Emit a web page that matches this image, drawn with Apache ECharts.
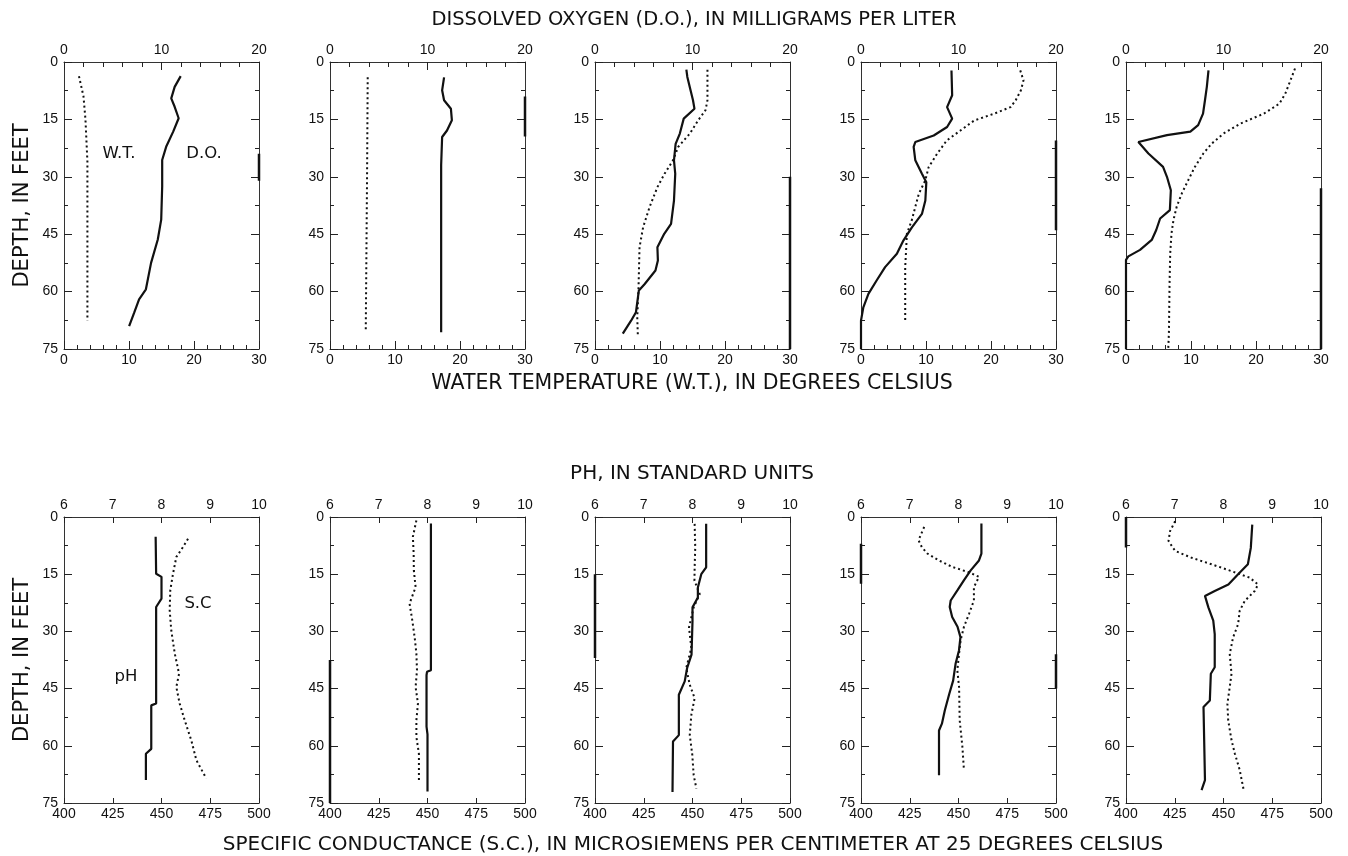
<!DOCTYPE html>
<html>
<head>
<meta charset="utf-8">
<script src="https://cdn.jsdelivr.net/npm/echarts@6/dist/echarts.min.js"></script>
<style>
  html, body { margin: 0; padding: 0; background: #fff; }
  #chart { width: 1348px; height: 856px; }
</style>
</head>
<body>
<div id="chart"></div>
<script>
// depth profiles, each point is [value, depth in feet]
const do1 = [[11.97, 3.7], [11.35, 6.5], [11.0, 9.5], [11.35, 11.7], [11.76, 14.7], [11.2, 18.2], [10.5, 22], [10.07, 25.6], [10.07, 32.5], [9.97, 41.2], [9.62, 46.4], [8.93, 52.5], [8.4, 59.4], [7.7, 62], [7.2, 65.5], [6.68, 69]]
const wt1 = [[2.3, 3.7], [3.0, 9], [3.3, 15], [3.6, 26], [3.6, 67.6]]
const do2 = [[11.7, 4], [11.5, 7.4], [11.7, 10], [12.4, 12.2], [12.5, 15.2], [12.0, 17.9], [11.5, 19.6], [11.4, 27], [11.4, 70.6]]
const wt2 = [[5.8, 4], [5.7, 30], [5.5, 70.6]]
const do3 = [[9.37, 2], [9.47, 3.9], [9.8, 7.4], [10.05, 10], [10.2, 12.2], [9.1, 14.8], [8.7, 18.7], [8.27, 21.4], [8.1, 25.7], [8.23, 29.2], [8.1, 36.2], [7.8, 42.3], [7.1, 44.9], [6.4, 48.4], [6.45, 51.9], [6.2, 54.5], [5.1, 58], [4.5, 59.7], [4.2, 65.4], [3.7, 67.6], [2.85, 71]]
const wt3 = [[17.3, 2], [17.3, 10], [17.0, 12.6], [15.85, 15.3], [14.6, 18.7], [12.8, 22.2], [12.0, 25.7], [10.7, 29.2], [9.6, 32.7], [8.4, 37.9], [7.4, 43.2], [6.85, 48.4], [6.7, 58.8], [6.5, 66.7], [6.6, 71.9]]
const do4 = [[9.28, 2.2], [9.35, 8.7], [8.83, 11.8], [9.35, 14.8], [8.83, 17], [7.46, 19.2], [5.57, 20.9], [5.4, 22.2], [5.57, 25.7], [6.25, 29.2], [6.7, 31.4], [6.6, 36.2], [6.25, 39.7], [5.22, 43.2], [4.36, 46.6], [3.68, 50.1], [2.47, 53.6], [1.6, 57.1], [0.76, 60.6], [0.24, 64.1], [0, 67.6], [0, 75]]
const wt4 = [[24.5, 2.2], [25.0, 4.8], [24.6, 7.4], [23.8, 10], [23.0, 11.8], [20.5, 13.5], [17.4, 15.3], [15.3, 17.9], [13.2, 20.5], [11.7, 24], [10.4, 27.5], [9.9, 30.9], [8.9, 34.4], [8.35, 37.9], [7.8, 41.4], [7.06, 44.9], [6.96, 48.4], [6.8, 53.6], [6.8, 62.4], [6.8, 67.6]]
const do5 = [[8.46, 2.2], [8.29, 6.5], [8.1, 10], [7.9, 13.5], [7.4, 16.5], [6.6, 18.2], [4.2, 19.1], [1.27, 20.9], [1.1, 21.3], [2.3, 23.9], [3.8, 27.4], [4.2, 30], [4.6, 33.5], [4.5, 38.7], [3.5, 40.9], [3.1, 43.9], [2.64, 46.5], [1.44, 49.1], [0.24, 50.8], [0, 51.7], [0, 75]]
const wt5 = [[26.0, 1.7], [25.3, 4.8], [24.5, 8.3], [23.6, 10.9], [21.2, 13.5], [17.6, 16.1], [15.0, 18.7], [13.2, 21.3], [11.9, 23.9], [10.6, 27.4], [9.6, 30.8], [8.6, 34.3], [7.8, 37.8], [7.3, 41.3], [7.0, 44.8], [6.8, 50], [6.7, 57.8], [6.6, 70.9], [6.5, 75]]

const ph1 = [[7.88, 5.2], [7.89, 14.9], [8.0, 15.7], [8.0, 21.4], [7.89, 23.6], [7.89, 48.9], [7.79, 49.4], [7.79, 60.8], [7.68, 62.1], [7.68, 69]]
const sc1 = [[463.6, 5.7], [461, 7.9], [457.6, 10.5], [455.9, 14.9], [454.5, 19.2], [454.2, 24.5], [455, 29.7], [456.8, 35.8], [459, 41.1], [457.6, 44.6], [459.3, 48.9], [461.9, 53.3], [465.3, 58.6], [467.9, 63.8], [473, 68.6]]
const ph2 = [[8.07, 1.7], [8.07, 40.2], [7.99, 40.6], [7.98, 41.5], [7.98, 55], [8.0, 57], [8.0, 72]]
const sc2 = [[444.3, 0.9], [442.5, 5.2], [442.9, 9.6], [443, 14], [443.9, 18.4], [440.8, 22.7], [442.2, 27.1], [443.4, 31.5], [444.3, 35.8], [444.6, 40.2], [443.9, 44.6], [445.1, 48.9], [444.3, 53.3], [444.3, 57.7], [445.6, 62.1], [445.6, 69.5]]
const ph3 = [[8.28, 1.8], [8.28, 13.2], [8.18, 15], [8.11, 18.5], [8.11, 21.1], [8.0, 23.7], [8.0, 27.3], [7.98, 36.1], [7.89, 39.6], [7.84, 43.1], [7.72, 46.6], [7.72, 57.2], [7.6, 58.9], [7.59, 72.1]]
const sc3 = [[451.1, 1.8], [451.4, 7.9], [451.1, 13.2], [451, 16.7], [453.7, 20.2], [450.6, 23.7], [448.2, 29], [449.4, 34.3], [446.8, 39.6], [448.6, 44], [451.1, 47.5], [449.4, 51.9], [448.6, 57.2], [449.9, 62.4], [450.6, 67.7], [452, 71.2]]
const ph4 = [[8.47, 1.7], [8.47, 9.6], [8.42, 11.4], [8.25, 14], [8.11, 16.6], [7.98, 19.2], [7.84, 21.9], [7.82, 23.6], [7.87, 26.2], [7.98, 28.8], [8.04, 31.5], [8.01, 35], [7.94, 38.5], [7.89, 42.9], [7.81, 46.4], [7.72, 50.7], [7.66, 54.2], [7.6, 56], [7.6, 67.7]]
const sc4 = [[432.4, 2.6], [429.5, 6.1], [431.2, 7.9], [434.1, 9.6], [440, 11.4], [446.8, 13.1], [455.4, 14.5], [460.5, 15.7], [457.9, 18.4], [457.9, 21.9], [455.4, 25.4], [452.8, 28.8], [451.1, 32.3], [450.3, 35.8], [449.4, 40.2], [450.3, 44.6], [450.6, 53.3], [452, 60.3], [452.8, 66.4]]
const ph5 = [[8.59, 2], [8.56, 8.1], [8.5, 12.4], [8.3, 15], [8.1, 17.7], [7.82, 19.4], [7.62, 20.7], [7.69, 23.7], [7.79, 27.2], [7.82, 30.7], [7.82, 39.4], [7.74, 41.1], [7.72, 48.1], [7.59, 49.8], [7.62, 69], [7.55, 71.6]]
const sc5 = [[425.2, 1.1], [422.6, 3.7], [421.8, 6.3], [425.2, 8.9], [433.7, 10.7], [443.9, 12.4], [454.1, 14.2], [463.4, 15.9], [467.7, 17.7], [466, 19.4], [460.9, 22], [458.3, 24.6], [457.5, 28.1], [454.9, 31.6], [453.2, 35.9], [454.1, 41.1], [453.2, 44.6], [452, 49], [452.4, 53.3], [454.1, 58.5], [455.8, 62], [458.3, 66.3], [460, 70.7], [460.5, 72]]

const topSolid = [do1, do2, do3, do4, do5]
const topDotted = [wt1, wt2, wt3, wt4, wt5]
const bottomSolid = [ph1, ph2, ph3, ph4, ph5]
const bottomDotted = [sc1, sc2, sc3, sc4, sc5]

// heavy stretches of the frame seen in the original: [panel, side, from depth, to depth]
const frameMarks = [
  [0, 'right', 24, 31], [1, 'right', 9, 19.5], [2, 'right', 30, 75], [3, 'right', 20.5, 44], [4, 'right', 33, 75],
  [6, 'left', 37.5, 75], [7, 'left', 15, 37], [8, 'left', 7, 17.5], [8, 'right', 36, 45], [9, 'left', 0, 8]
]

// axis ranges and tick steps
const depthRange = [0, 75, 15]
const doRange = [0, 20, 10]
const wtRange = [0, 30, 10]
const phRange = [6, 10, 1]
const scRange = [400, 500, 25]

const font = 'Liberation Sans, Arial, sans-serif'
const titleFont = 'DejaVu Sans, sans-serif'
const ink = '#111'

const chart = echarts.init(document.getElementById('chart'))

const panelLefts = [64, 330, 595, 861, 1126]
const panelWidth = 195
const rows = [{ top: 62, height: 287 }, { top: 517, height: 286 }]

const grids = []
const xAxes = []
const yAxes = []
const series = []

function xAxis(gridIndex, position, range, minorSplit, majorLen, minorLen) {
  return {
    type: 'value',
    gridIndex,
    position,
    min: range[0],
    max: range[1],
    interval: range[2],
    axisLine: { show: true, onZero: false, lineStyle: { color: '#333', width: 1 } },
    axisTick: { show: true, inside: true, length: majorLen, lineStyle: { color: '#222', width: 1 } },
    minorTick: { show: minorSplit > 0, splitNumber: minorSplit || 5, length: minorLen, lineStyle: { color: '#222', width: 1 } },
    axisLabel: { color: ink, fontFamily: font, fontSize: 14, margin: position === 'top' ? 5 : 4 },
    splitLine: { show: false }
  }
}

function yAxis(gridIndex, position, showLabel, name) {
  return {
    type: 'value',
    gridIndex,
    position,
    inverse: true,
    min: depthRange[0],
    max: depthRange[1],
    interval: depthRange[2],
    name: name || '',
    nameLocation: 'middle',
    nameGap: 31,
    nameTextStyle: { color: ink, fontFamily: titleFont, fontSize: 21 },
    axisLine: { show: true, onZero: false, lineStyle: { color: '#333', width: 1 } },
    axisTick: { show: true, inside: true, length: 8, lineStyle: { color: '#222', width: 1 } },
    minorTick: { show: true, splitNumber: 2, length: 4, lineStyle: { color: '#222', width: 1 } },
    axisLabel: { show: showLabel, color: ink, fontFamily: font, fontSize: 14, margin: 6 },
    splitLine: { show: false }
  }
}

for (let r = 0; r < 2; r++) {
  for (let c = 0; c < 5; c++) {
    const g = r * 5 + c
    grids.push({ left: panelLefts[c], top: rows[r].top, width: panelWidth, height: rows[r].height })
    if (r === 0) {
      xAxes.push(xAxis(g, 'top', doRange, 5, 8, 5))
      xAxes.push(xAxis(g, 'bottom', wtRange, 5, 8, 4))
    } else {
      xAxes.push(xAxis(g, 'top', phRange, 0, 6, 0))
      xAxes.push(xAxis(g, 'bottom', scRange, 0, 5, 0))
    }
    yAxes.push(yAxis(g, 'left', true, c === 0 ? 'DEPTH, IN FEET' : ''))
    yAxes.push(yAxis(g, 'right', false))

    const solid = r === 0 ? topSolid[c] : bottomSolid[c]
    const dotted = r === 0 ? topDotted[c] : bottomDotted[c]
    series.push({
      type: 'line',
      xAxisIndex: 2 * g,
      yAxisIndex: 2 * g,
      data: solid,
      symbol: 'none',
      silent: true,
      lineStyle: { color: ink, width: 2.2 }
    })
    series.push({
      type: 'line',
      xAxisIndex: 2 * g + 1,
      yAxisIndex: 2 * g,
      data: dotted,
      symbol: 'none',
      silent: true,
      lineStyle: { color: ink, width: 2, type: [2, 3] }
    })
  }
}

frameMarks.forEach(([g, side, from, to]) => {
  const range = g < 5 ? doRange : phRange
  const v = side === 'right' ? range[1] : range[0]
  series.push({
    type: 'line',
    xAxisIndex: 2 * g,
    yAxisIndex: 2 * g,
    data: [[v, from], [v, to]],
    symbol: 'none',
    silent: true,
    lineStyle: { color: ink, width: 2.5 }
  })
})

function label(text, x, y, size, family) {
  return {
    type: 'text',
    x,
    y,
    style: { text, fill: ink, font: size + 'px ' + (family || titleFont), textAlign: 'center', textVerticalAlign: 'middle' }
  }
}

const option = {
  animation: false,
  backgroundColor: '#fff',
  grid: grids,
  xAxis: xAxes,
  yAxis: yAxes,
  series,
  graphic: [
    label('DISSOLVED OXYGEN (D.O.), IN MILLIGRAMS PER LITER', 694, 20, 19.5),
    label('WATER TEMPERATURE (W.T.), IN DEGREES CELSIUS', 692, 384, 20.5),
    label('PH, IN STANDARD UNITS', 692, 474, 20),
    label('SPECIFIC CONDUCTANCE (S.C.), IN MICROSIEMENS PER CENTIMETER AT 25 DEGREES CELSIUS', 693, 845, 20),
    label('W.T.', 119, 154, 16.5),
    label('D.O.', 204, 154, 16.5),
    label('S.C', 198, 604, 16.5),
    label('pH', 126, 677, 16.5)
  ]
}

chart.setOption(option)
window.addEventListener('resize', () => chart.resize())
</script>
</body>
</html>
